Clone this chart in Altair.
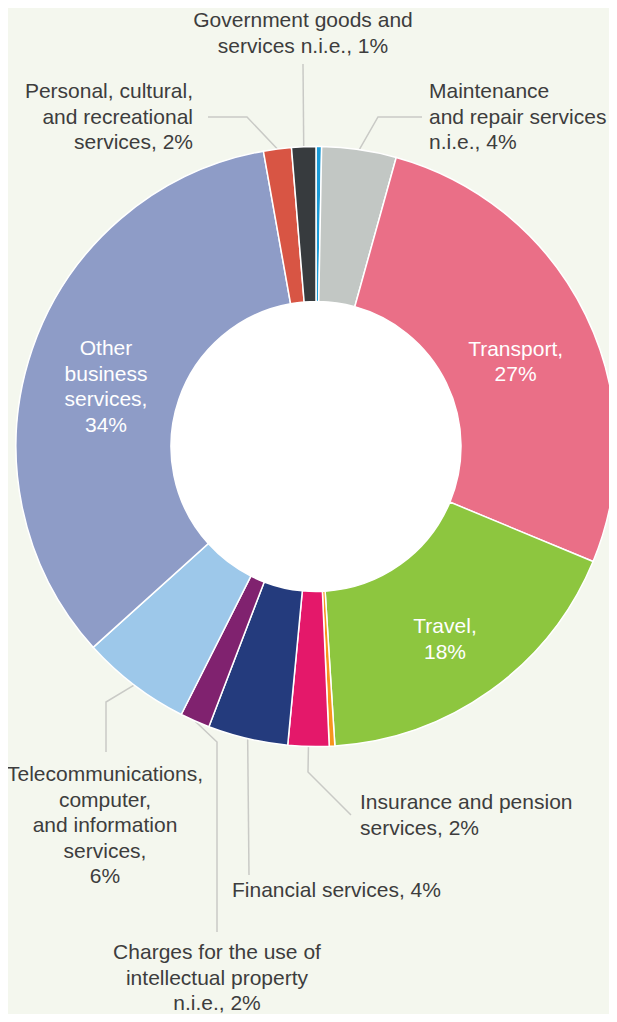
import math
import altair as alt
import pandas as pd

# ---- data ----
categories = [
    "Manufacturing services on physical inputs owned by others",
    "Maintenance and repair services n.i.e.",
    "Transport",
    "Travel",
    "Construction",
    "Insurance and pension services",
    "Financial services",
    "Charges for the use of intellectual property n.i.e.",
    "Telecommunications, computer, and information services",
    "Other business services",
    "Personal, cultural, and recreational services",
    "Government goods and services n.i.e.",
]
values = [0.3, 4.0, 26.9, 17.7, 0.3, 2.2, 4.3, 1.6, 5.9, 33.8, 1.5, 1.3]
colors = ["#1a9bd7", "#c2c7c4", "#ea6f87", "#8dc63f", "#f7941d", "#e4186a",
          "#243b7d", "#80226f", "#9dc8ea", "#8e9cc7", "#d85544", "#373b3e"]
inside_labels = ["", "", "Transport,\n27%", "Travel,\n18%", "", "", "", "", "",
                 "Other\nbusiness\nservices,\n34%", "", ""]
outside_labels = [
    "",
    "Maintenance\nand repair services\nn.i.e., 4%",
    "", "", "",
    "Insurance and pension\nservices, 2%",
    "Financial services, 4%",
    "Charges for the use of\nintellectual property\nn.i.e., 2%",
    "Telecommunications,\ncomputer,\nand information\nservices,\n6%",
    "",
    "Personal, cultural,\nand recreational\nservices, 2%",
    "Government goods and\nservices n.i.e., 1%",
]

# ---- layout (page pixels) ----
OFF = 8
CX, CY = 316 - OFF, 446.5 - OFF
R_OUT, R_IN = 300, 145
LH = 25.5
FS = 21
FONT = "Liberation Sans"
TXT = "#3d3d3d"
LEADER = "#c9cac6"

# label anchor: idx -> (align, x, first-line y, leader path after the edge point)
label_layout = {
    1: ("left", 429, 92, [(378, 117), (422, 117)]),
    5: ("left", 360, 803, [(308, 772), (351, 815)]),
    6: ("left", 232, 891, [(249, 875)]),
    7: ("center", 217, 953, [(217, 742), (217, 932)]),
    8: ("center", 105, 775, [(106, 702), (106, 752)]),
    10: ("right", 193, 92, [(247, 117), (208, 117)]),
    11: ("center", 303, 21, [(303, 64)]),
}

total = sum(values)
mids = []
acc = 0.0
for v in values:
    mids.append((acc + v / 2) / total * 2 * math.pi)
    acc += v

df = pd.DataFrame({"idx": list(range(len(values))), "category": categories, "value": values})

arcs = alt.Chart(df).mark_arc(outerRadius=R_OUT, innerRadius=R_IN, stroke="white",
                              strokeWidth=1.5).encode(
    theta=alt.Theta("value:Q", stack=True),
    order=alt.Order("idx:Q", sort="ascending"),
    color=alt.Color("category:N", scale=alt.Scale(domain=categories, range=colors), legend=None),
    x=alt.value(CX), y=alt.value(CY),
)

hole = alt.Chart(pd.DataFrame({"a": [1]})).mark_arc(
    theta=0, theta2=2 * math.pi, outerRadius=R_IN, innerRadius=0, fill="white", strokeWidth=0
).encode(x=alt.value(CX), y=alt.value(CY))

# leader lines
rows = []
for i, (al, lx, ly, path) in label_layout.items():
    t = mids[i]
    pts = [(CX + R_OUT * math.sin(t), CY - R_OUT * math.cos(t))]
    pts += [(px - OFF, py - OFF) for px, py in path]
    for s, (px, py) in enumerate(pts):
        rows.append({"lid": i, "seq": s, "px": px, "py": py})
leaders = alt.Chart(pd.DataFrame(rows)).mark_line(stroke=LEADER, strokeWidth=1.5).encode(
    x=alt.X("px:Q", scale=None, axis=None),
    y=alt.Y("py:Q", scale=None, axis=None),
    detail="lid:N",
    order="seq:Q",
)

# outside labels (first line placed at the anchor)
lab_rows = []
for i, (al, lx, ly, path) in label_layout.items():
    lab_rows.append({"al": al, "tx": lx - OFF, "ty": ly - OFF, "label": outside_labels[i]})
lab_df = pd.DataFrame(lab_rows)

text_layers = []
for al in ["left", "center", "right"]:
    sub = lab_df[lab_df["al"] == al]
    text_layers.append(
        alt.Chart(sub).mark_text(align=al, baseline="middle", lineBreak="\n", lineHeight=LH,
                                 fontSize=FS, font=FONT, color=TXT).encode(
            x=alt.X("tx:Q", scale=None, axis=None),
            y=alt.Y("ty:Q", scale=None, axis=None),
            text="label:N",
        )
    )

# inside labels, block centred near the slice middle
in_rows = []
R_LAB = 222
for i, txt in enumerate(inside_labels):
    if not txt:
        continue
    t = mids[i]
    n = txt.count("\n") + 1
    in_rows.append({"tx": CX + R_LAB * math.sin(t),
                    "ty": CY - R_LAB * math.cos(t) - (n - 1) * LH / 2,
                    "label": txt})
inside = alt.Chart(pd.DataFrame(in_rows)).mark_text(
    align="center", baseline="middle", lineBreak="\n", lineHeight=LH, fontSize=FS, font=FONT,
    color="white", dy=13
).encode(
    x=alt.X("tx:Q", scale=None, axis=None),
    y=alt.Y("ty:Q", scale=None, axis=None),
    text="label:N",
)

chart = alt.layer(leaders, arcs, hole, inside, *text_layers).properties(
    width=601, height=1006, padding=0, autosize="none", background="#f4f7ee"
).configure_view(stroke=None)

chart.save("out.html", embed_options={"renderer": "svg", "actions": False})
